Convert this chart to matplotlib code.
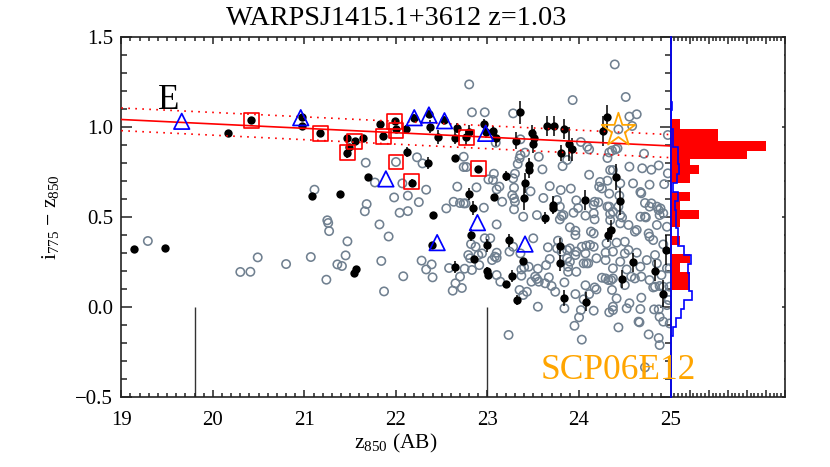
import matplotlib
matplotlib.use('Agg')
import matplotlib.pyplot as plt
from matplotlib.ticker import MultipleLocator

plt.rcParams['font.family'] = ['Liberation Serif', 'DejaVu Serif']
plt.rcParams['mathtext.default'] = 'regular'

# gray open circles: all galaxies
gray_mag = [21.67, 21.77, 21.11, 21.68, 21.66, 21.25, 21.26, 21.27, 21.82, 21.92, 21.47, 21.45, 21.36, 21.41, 21.24,
            21.84, 21.87, 21.07, 20.80, 20.49, 20.41, 20.30, 19.29,
            24.39, 24.51, 23.93, 22.80, 22.83, 22.97, 23.28, 24.63, 24.55, 24.58, 24.43, 24.97, 23.36, 23.09, 24.02,
            24.09, 24.11, 23.41, 23.36, 23.35, 23.33, 23.56, 24.42, 24.40, 24.36, 24.33, 24.31, 24.71, 23.87, 23.82,
            22.74, 22.74, 22.77, 22.23, 22.29, 22.00, 23.60, 23.07, 23.30, 23.28, 23.01, 23.06, 24.11, 24.55, 24.69,
            24.79, 24.87, 24.97, 24.34, 24.37, 24.31, 24.23, 24.22, 24.25, 24.59, 24.45, 24.77, 24.93, 23.13, 23.10,
            22.88, 22.67, 23.29, 22.07, 23.68, 23.80, 23.91, 23.47, 23.27, 23.29, 23.30, 23.61, 23.16, 22.63, 22.70,
            22.74, 22.76, 21.98, 22.13, 22.33, 22.25, 24.33, 24.44, 24.67, 24.68, 23.97, 24.17, 24.16, 24.21, 23.99,
            23.76, 23.79, 24.31, 24.33, 24.37, 24.43, 24.72, 24.79, 24.77, 24.85, 24.87, 24.89, 24.92, 24.88, 23.29,
            22.55, 22.04, 22.13, 22.96, 23.94, 23.81, 23.54, 23.39, 24.34, 24.45, 24.67, 24.73, 24.16, 24.07,
            23.10, 23.79, 23.83, 23.90, 23.96, 23.96, 24.13, 24.16, 24.17, 24.34, 24.45, 24.47, 24.54, 24.61, 24.63,
            24.72, 24.76, 24.85, 24.96, 24.77, 24.50, 24.41, 24.30, 24.16, 24.12, 24.08, 24.03, 23.97, 23.90, 23.77,
            23.66, 23.50, 23.36, 23.28, 23.24, 23.10, 23.10, 23.08, 23.05, 22.97, 23.03, 22.82, 22.87, 22.94, 22.90,
            22.79, 22.81, 22.83, 22.91, 22.28, 22.39, 22.33, 22.40, 22.08, 22.58, 22.75, 22.70, 22.65, 22.62, 22.72,
            23.10, 23.14, 23.35, 23.43, 23.39, 23.55, 23.23, 24.03, 23.37, 23.37, 23.40, 23.45, 23.55, 23.64, 23.68,
            23.63, 23.67, 23.48, 23.52, 23.54, 23.56, 23.70, 23.74, 23.84, 23.96, 24.07, 24.11, 24.05, 24.02, 24.00,
            23.95, 24.16, 23.84, 24.17, 24.19, 24.25, 24.29, 24.32, 24.35, 24.37, 24.05, 24.08, 24.10, 23.97, 23.88,
            23.88, 23.87, 23.90, 23.96, 24.07, 24.19, 24.29, 24.29, 24.37, 24.50, 24.54, 24.45, 24.37, 24.52, 24.63,
            24.67, 24.74, 24.57, 24.61, 24.68, 24.77, 24.81, 24.88, 24.99, 24.96, 24.50, 24.36, 24.41, 24.55, 24.52,
            24.37, 24.37, 24.33, 24.68, 24.67, 24.66, 24.65, 24.82, 24.87, 24.88, 24.92, 24.43, 24.76, 24.87, 24.88,
            24.72, 24.98, 24.96, 24.99, 23.76, 23.81, 23.87, 24.81, 24.92, 24.83, 24.85, 24.90, 24.92, 24.83, 24.99]
gray_col = [0.80, 0.69, 0.65, 0.57, 0.53, 0.48, 0.465, 0.42, 0.457, 0.39, 0.363, 0.285, 0.235, 0.226, 0.15,
            0.254, 0.085, 0.276, 0.237, 0.274, 0.194, 0.193, 0.365,
            1.346, 1.165, 1.148, 1.235, 1.08, 1.08, 1.074, 1.069, 1.056, 1.004, 0.985, 0.954, 0.93, 0.911, 0.915,
            0.889, 0.874, 0.856, 0.843, 0.824, 0.793, 0.833, 0.88, 0.874, 0.867, 0.857, 0.826, 0.85, 0.815, 0.781,
            0.833, 0.776, 0.776, 0.83, 0.796, 0.804, 0.763, 0.739, 0.739, 0.713, 0.707, 0.704, 0.733, 0.778, 0.769,
            0.761, 0.785, 0.741, 0.759, 0.759, 0.70, 0.693, 0.667, 0.657, 0.685, 0.685, 0.678, 0.681, 0.667, 0.652,
            0.663, 0.667, 0.661, 0.685, 0.67, 0.648, 0.656, 0.641, 0.62, 0.602, 0.583, 0.604, 0.583, 0.583, 0.576,
            0.574, 0.574, 0.607, 0.617, 0.65, 0.581, 0.628, 0.617, 0.637, 0.63, 0.591, 0.583, 0.565, 0.58, 0.548,
            0.593, 0.556, 0.556, 0.556, 0.528, 0.556, 0.576, 0.574, 0.556, 0.556, 0.537, 0.546, 0.519, 0.509, 0.541,
            0.546, 0.522, 0.531, 0.55, 0.522, 0.504, 0.509, 0.50, 0.515, 0.509, 0.50, 0.496, 0.519, 0.506,
            0.457, 0.485, 0.509, 0.441, 0.422, 0.398, 0.417, 0.407, 0.485, 0.481, 0.463, 0.496, 0.454, 0.417, 0.426,
            0.50, 0.407, 0.454, 0.444, 0.389, 0.361, 0.356, 0.352, 0.333, 0.343, 0.339, 0.333, 0.306, 0.324, 0.367,
            0.33, 0.38, 0.296, 0.333, 0.306, 0.30, 0.272, 0.278, 0.259, 0.38, 0.38, 0.348, 0.333, 0.296, 0.287,
            0.287, 0.269, 0.204, 0.231, 0.256, 0.235, 0.207, 0.163, 0.169, 0.215, 0.211, 0.167, 0.13, 0.089, 0.104,
            0.176, 0.139, 0.093, 0.083, 0.065, 0.0, -0.157, -0.183, 0.172, 0.207, 0.219, 0.222, 0.211, 0.231, 0.265,
            0.13, 0.163, 0.139, 0.167, 0.154, 0.139, 0.115, 0.083, 0.135, 0.07, 0.119, 0.07, 0.041, -0.019, -0.059,
            -0.106, -0.022, -0.009, 0.107, 0.096, 0.161, 0.157, 0.148, 0.148, 0.157, 0.241, 0.241, 0.241, 0.194, 0.222,
            0.194, 0.269, 0.25, 0.287, 0.296, 0.269, 0.259, 0.30, 0.306, 0.296, 0.315, 0.25, 0.213, 0.207, 0.30,
            0.222, 0.259, 0.167, 0.157, 0.167, 0.148, 0.107, 0.115, 0.111, 0.213, 0.12, 0.093, 0.046, 0.019, -0.009,
            0.0, -0.019, -0.031, 0.05, -0.013, -0.087, -0.083, -0.015, -0.015, -0.056, -0.083, -0.115, -0.154, -0.174, -0.213,
            -0.337, 0.037, 0.009, -0.093, 0.324, 0.306, 0.315, 0.37, 0.346, 0.287, 0.241, 0.176, 0.111, 0.111, 0.213]

# black points with colour errors
black_mag = [19.135, 19.48, 21.56, 21.54, 20.17, 20.42, 20.97, 20.97, 21.175, 21.46, 21.47, 21.55, 21.49, 21.64, 21.83,
             21.86, 21.69, 21.08, 21.39,
             21.985, 22.00, 22.11, 22.20, 22.36, 22.37, 22.53, 22.46, 22.65, 22.67, 22.77, 22.80, 22.96, 22.98, 23.06,
             23.09, 23.31, 23.36, 23.49, 23.51, 23.50, 23.65, 23.73, 23.84, 23.89, 23.92, 23.80, 24.26, 24.31,
             22.12, 22.35, 22.64, 22.17, 22.90, 23.20, 23.45, 23.45, 23.41, 23.40, 22.80, 22.84, 23.07, 22.41, 24.07,
             24.40, 24.45, 23.72, 23.71, 23.63,
             22.825, 22.39, 23.00, 23.24, 23.79, 23.79, 22.85, 22.65, 23.39, 23.00, 23.01, 23.27, 23.20, 23.32, 23.84,
             24.08, 24.32, 24.35, 24.59, 24.47, 24.83, 24.95, 24.92]
black_col = [0.32, 0.328, 0.207, 0.185, 0.963, 1.035, 1.055, 1.004, 0.963, 0.935, 0.856, 0.919, 0.889, 0.935, 1.017,
             0.948, 0.72, 0.617, 0.628,
             1.03, 0.985, 0.989, 1.05, 1.07, 1.0, 1.037, 0.944, 0.939, 0.993, 0.941, 0.969, 1.013, 0.969, 0.978,
             0.935, 0.922, 1.08, 0.965, 0.939, 0.902, 1.004, 1.004, 0.985, 0.904, 0.874, 0.854, 0.978, 1.052,
             0.857, 0.80, 0.824, 0.689, 0.767, 0.726, 0.787, 0.76, 0.685, 0.604, 0.624, 0.548, 0.611, 0.511, 0.593,
             0.72, 0.585, 0.567, 0.55, 0.494,
             0.40, 0.341, 0.341, 0.369, 0.337, 0.244, 0.267, 0.222, 0.252, 0.198, 0.174, 0.17, 0.126, 0.037, 0.048,
             0.028, 0.40, 0.426, 0.246, 0.154, 0.20, 0.313, 0.072]
black_err = [0.0, 0.0, 0.01, 0.01, 0.0, 0.01, 0.01, 0.01, 0.01, 0.015, 0.03, 0.015, 0.01, 0.01, 0.01,
             0.015, 0.01, 0.01, 0.01,
             0.02, 0.02, 0.02, 0.02, 0.02, 0.037, 0.02, 0.04, 0.037, 0.028, 0.04, 0.04, 0.028, 0.03, 0.028,
             0.04, 0.046, 0.065, 0.046, 0.046, 0.046, 0.055, 0.055, 0.055, 0.093, 0.065, 0.046, 0.083, 0.07,
             0.028, 0.033, 0.01, 0.022, 0.015, 0.028, 0.04, 0.046, 0.055, 0.065, 0.033, 0.04, 0.015, 0.01, 0.055,
             0.074, 0.074, 0.046, 0.037, 0.033,
             0.033, 0.01, 0.037, 0.037, 0.046, 0.046, 0.015, 0.033, 0.015, 0.022, 0.018, 0.033, 0.015, 0.028, 0.046,
             0.052, 0.04, 0.055, 0.052, 0.052, 0.059, 0.083, 0.074]

# red squares, blue triangles, the SN host star
square_mag = [20.42, 21.175, 21.47, 21.55, 21.86, 21.985, 22.00, 22.00, 22.17, 22.77, 22.90]
square_col = [1.035, 0.963, 0.856, 0.919, 0.945, 1.028, 0.98, 0.804, 0.694, 0.94, 0.77]
tri_mag = [19.66, 20.96, 21.89, 22.20, 22.36, 22.53, 22.98, 22.89, 22.45, 23.41]
tri_col = [1.03, 1.05, 0.71, 1.05, 1.065, 1.033, 0.963, 0.467, 0.356, 0.348]
star_mag = [24.43]
star_col = [0.98]

# red sequence fit
fit_mag = [19, 25]
fit_col = [1.04, 0.893]
fit_up = [1.104, 0.956]
fit_lo = [0.978, 0.828]

# cut markers
cut_mag = [19.8, 23.0]
cut_top = 0.0

# histograms on the right
red_edges = [1.041, 0.987, 0.920, 0.867, 0.820, 0.787, 0.737, 0.685, 0.639, 0.589, 0.537, 0.489, 0.441, 0.393,
             0.343, 0.291, 0.241, 0.191, 0.093]
red_counts = [1, 5, 10, 8, 2, 3, 2, 0, 2, 1, 3, 1, 0, 1, 0, 2, 1, 2]
blue_edges = [1.14, 1.09, 1.04, 0.99, 0.94, 0.89, 0.84, 0.79, 0.74, 0.69, 0.64, 0.59, 0.54, 0.49, 0.44, 0.39,
              0.34, 0.29, 0.24, 0.19, 0.14, 0.09, 0.04, -0.01, -0.06, -0.11, -0.16]
blue_counts = [0.1, 0, 0, 0.25, 0.2, 0.8, 0.8, 0.9, 0.65, 0.3, 0.8, 0.45, 0.55, 0.6, 0.8, 0.8, 1.45, 2.1, 1.8,
               1.95, 1.95, 2.25, 1.45, 1.05, 0.55, 0.2]

W, H = 830, 467
INK = '#222222'
fig = plt.figure(figsize=(W / 100, H / 100), dpi=100)
ax = fig.add_axes([121.3 / W, (H - 396.7) / H, 549.3 / W, 360 / H])
axh = fig.add_axes([670.6 / W, (H - 396.7) / H, 114.4 / W, 360 / H])

ax.scatter(gray_mag, gray_col, s=36, facecolors='none', edgecolors='#708090', linewidths=1.15, zorder=2)
ax.errorbar(black_mag, black_col, yerr=black_err, fmt='none', ecolor='black', elinewidth=1.1, zorder=3)
ax.scatter(black_mag, black_col, s=36, color='black', linewidths=0, zorder=3)
ax.plot(fit_mag, fit_col, color='red', lw=1.2, zorder=4)
ax.plot(fit_mag, fit_up, color='red', lw=1.2, ls=(0, (1, 3.2)), zorder=4)
ax.plot(fit_mag, fit_lo, color='red', lw=1.2, ls=(0, (1, 3.2)), zorder=4)
ax.scatter(square_mag, square_col, s=115, marker='s', facecolors='none', edgecolors='red', linewidths=1.2, zorder=5)
ax.scatter(tri_mag, tri_col, s=125, marker='^', facecolors='none', edgecolors='blue', linewidths=1.25, zorder=5)
ax.scatter(star_mag, star_col, s=640, marker='*', facecolors='none', edgecolors='orange', linewidths=1.3, zorder=5)
ax.vlines(cut_mag, -0.5, cut_top, color='#333333', lw=1.0, zorder=1)
ax.text(19.4, 1.096, 'E', fontsize=25, color='black', zorder=6)

ax.set_xlim(19, 25)
ax.set_ylim(-0.5, 1.5)
ax.set_yticks([-0.5, 0.0, 0.5, 1.0, 1.5], ['\u22120.5', '0.0', '0.5', '1.0', '1.5'])
ax.xaxis.set_major_locator(MultipleLocator(1))
ax.xaxis.set_minor_locator(MultipleLocator(0.1))
ax.yaxis.set_minor_locator(MultipleLocator(0.1))
ax.tick_params(axis='x', which='major', direction='in', top=True, length=5, width=1.1, color=INK, labelsize=15, pad=10)
ax.tick_params(axis='x', which='minor', direction='in', top=True, length=2.6, width=1.1, color=INK)
ax.tick_params(axis='y', which='major', direction='in', right=True, length=8, width=1.1, color=INK, labelsize=15, pad=6)
ax.tick_params(axis='y', which='minor', direction='in', right=True, length=4, width=1.1, color=INK)
ax.set_xlabel('z$_{850}$ (AB)', fontsize=15.5, labelpad=2)
ax.set_ylabel('i$_{775}$ \u2212 z$_{850}$', fontsize=15.5, labelpad=10)
ax.set_title('WARPSJ1415.1+3612 z=1.03', fontsize=20.3, pad=8.5)
for s in ax.spines.values():
    s.set_linewidth(1.2)
    s.set_color(INK)

axh.stairs(red_counts, red_edges, orientation='horizontal', fill=True, color='red', zorder=2)
axh.stairs(blue_counts, blue_edges, orientation='horizontal', color='blue', lw=1.2, zorder=3)
axh.axvline(0, color='blue', lw=1.2, zorder=4, clip_on=False)
axh.set_xlim(0, 12)
axh.set_ylim(-0.5, 1.5)
axh.patch.set_alpha(0)
axh.xaxis.set_major_locator(MultipleLocator(2))
axh.xaxis.set_minor_locator(MultipleLocator(0.4))
axh.yaxis.set_major_locator(MultipleLocator(0.5))
axh.yaxis.set_minor_locator(MultipleLocator(0.1))
axh.tick_params(axis='x', which='major', direction='in', top=True, length=5, width=1.1, color=INK, labelbottom=False)
axh.tick_params(axis='x', which='minor', direction='in', top=True, length=2.6, width=1.1, color=INK)
axh.tick_params(axis='y', which='major', direction='in', left=False, right=True, length=2, width=1.1, color=INK, labelleft=False)
axh.tick_params(axis='y', which='minor', direction='in', left=False, right=True, length=1, width=1.1, color=INK)
for s in axh.spines.values():
    s.set_linewidth(1.2)
    s.set_color(INK)
axh.spines['left'].set_visible(False)

# sits over both panels
axh.text(23.58, -0.404, 'SCP06E12', transform=ax.transData, fontsize=25.5, color='orange', zorder=6)

fig.savefig('out.png', dpi=100)
